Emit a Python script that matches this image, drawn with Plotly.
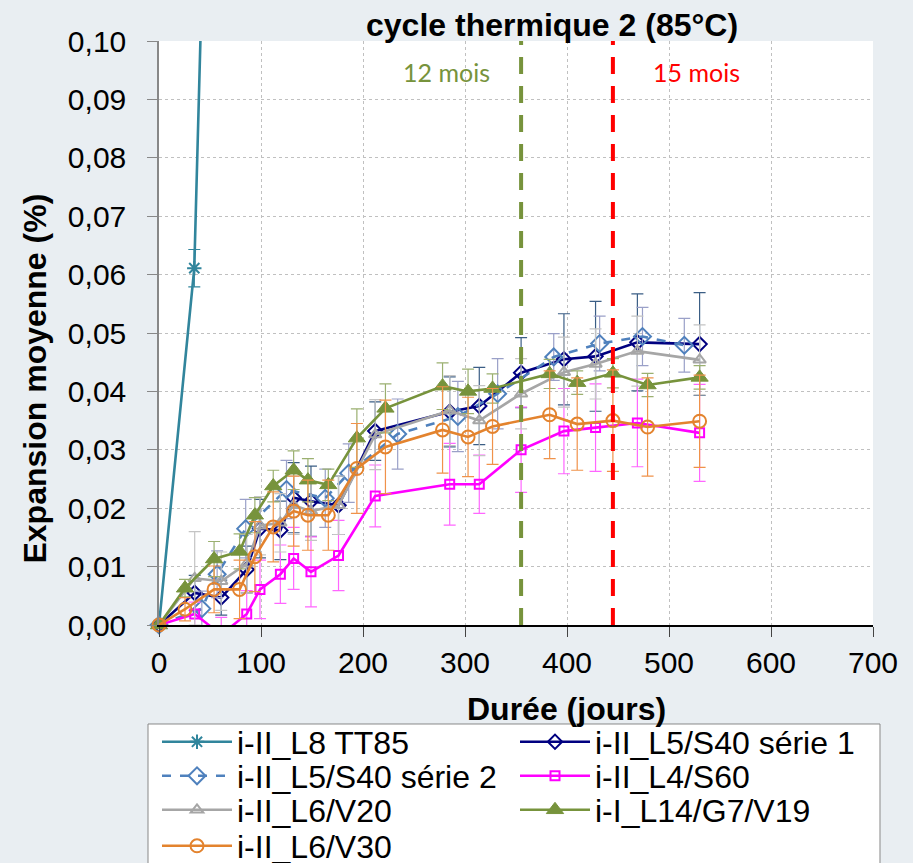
import plotly.graph_objects as go

# ---------------- data ----------------
x_tt85 = [0, 34.6, 56]
y_tt85 = [0, 0.0611, 0.20]
e_tt85 = [0, 0.0032, 0]

x_s1 = [0, 35, 61, 86, 99, 119, 132, 149, 176, 212, 285, 314, 355, 397, 428, 469, 530]
y_s1 = [0, 0.0055, 0.0047, 0.0095, 0.0165, 0.0162, 0.0218, 0.0212, 0.0205, 0.0332, 0.0365, 0.0375, 0.0432, 0.0455, 0.0460, 0.0484, 0.0481]
e_s1 = [0, 0.003, 0.003, 0.004, 0.005, 0.005, 0.006, 0.006, 0.005, 0.005, 0.006, 0.0066, 0.006, 0.0078, 0.0094, 0.0083, 0.0088]

x_s2 = [0, 42, 57, 85, 125, 163, 186, 234, 293, 332, 387, 432, 474, 515]
y_s2 = [0, 0.0028, 0.0087, 0.0165, 0.0232, 0.0217, 0.0260, 0.0327, 0.0357, 0.0396, 0.0459, 0.0482, 0.0494, 0.0479]
e_s2 = [0, 0.003, 0.004, 0.005, 0.005, 0.005, 0.005, 0.006, 0.006, 0.006, 0.004, 0.0047, 0.005, 0.0046]

x_s60 = [0, 35, 61, 86, 99, 119, 132, 149, 176, 212, 285, 314, 355, 397, 428, 469, 530]
y_s60 = [0, 0.0019, -0.0017, 0.0019, 0.0061, 0.0087, 0.0114, 0.0091, 0.0119, 0.0221, 0.0241, 0.0241, 0.0300, 0.0332, 0.0338, 0.0346, 0.0329]
e_s60 = [0, 0.002, 0.003, 0.004, 0.005, 0.005, 0.0053, 0.006, 0.006, 0.0053, 0.007, 0.005, 0.0073, 0.0073, 0.0075, 0.0075, 0.0083]

x_v20 = [0, 35, 61, 86, 99, 119, 132, 149, 176, 212, 285, 314, 355, 397, 428, 469, 530]
y_v20 = [0, 0.0080, 0.0075, 0.0105, 0.0170, 0.0175, 0.0205, 0.0195, 0.0205, 0.0326, 0.0367, 0.0350, 0.0396, 0.0433, 0.0447, 0.0469, 0.0454]
e_v20 = [0, 0.008, 0.005, 0.005, 0.005, 0.005, 0.005, 0.005, 0.005, 0.006, 0.006, 0.006, 0.006, 0.006, 0.006, 0.006, 0.006]

x_v19 = [0, 25.5, 54, 79, 94, 112, 132, 146, 166, 194, 222, 278, 303, 327, 383, 410, 445, 479, 530]
y_v19 = [0, 0.0063, 0.0113, 0.0126, 0.0188, 0.0238, 0.0265, 0.0248, 0.0240, 0.0320, 0.0371, 0.0409, 0.0400, 0.0405, 0.0430, 0.0415, 0.0431, 0.0411, 0.0424]
e_v19 = [0, 0.0015, 0.003, 0.003, 0.003, 0.0027, 0.0033, 0.0037, 0.0027, 0.005, 0.0042, 0.004, 0.0038, 0.0025, 0.0025, 0.002, 0.0025, 0.002, 0.002]

x_v30 = [0, 25.5, 54, 79, 94, 112, 132, 146, 166, 194, 222, 278, 303, 327, 383, 410, 445, 479, 530]
y_v30 = [0, 0.0027, 0.0061, 0.0061, 0.0117, 0.0168, 0.0195, 0.0188, 0.0188, 0.0268, 0.0305, 0.0334, 0.0322, 0.0340, 0.0360, 0.0344, 0.0350, 0.0339, 0.0349]
e_v30 = [0, 0.002, 0.004, 0.005, 0.006, 0.006, 0.006, 0.006, 0.006, 0.0077, 0.008, 0.0074, 0.0068, 0.0065, 0.0075, 0.0079, 0.0087, 0.0084, 0.0079]

month12_day = 355
month15_day = 445
x_ticks = [0, 100, 200, 300, 400, 500, 600, 700]
y_ticks = [0, 0.01, 0.02, 0.03, 0.04, 0.05, 0.06, 0.07, 0.08, 0.09, 0.10]

# ---------------- figure ----------------
FONT = "Liberation Sans, Arial, sans-serif"
fig = go.Figure()

def add(name, x, y, e, color, ecolor, symbol, size, legend, dash="solid", clip=False, mlw=2):
    fig.add_trace(go.Scatter(
        x=x, y=y, name=name, mode="lines+markers", legend=legend,
        line=dict(color=color, width=2.6, dash=dash),
        marker=dict(symbol=symbol, size=size, color=color,
                    line=dict(color=color, width=mlw)),
        error_y=dict(type="data", array=e, visible=True, color=ecolor,
                     thickness=1.2, width=6),
        cliponaxis=clip,
    ))

add("i-II_L8 TT85", x_tt85, y_tt85, e_tt85, "#31859C", "#31859C", "asterisk-open", 12, "legend", clip=True)
add("i-II_L5/S40 série 1", x_s1, y_s1, e_s1, "#000080", "#3B5E85", "diamond-open", 11, "legend")
add("i-II_L5/S40 série 2", x_s2, y_s2, e_s2, "#4F81BD", "#9AA0C8", "diamond-open", 13, "legend2", dash="dash")
add("i-II_L4/S60", x_s60, y_s60, e_s60, "#FF00FF", "#FF66FF", "square-open", 9, "legend2", clip=True)
add("i-II_L6/V20", x_v20, y_v20, e_v20, "#A6A6A6", "#C4C4C4", "triangle-up-open", 11, "legend3")
add("i-I_L14/G7/V19", x_v19, y_v19, e_v19, "#77933C", "#9BB070", "triangle-up", 15, "legend3", mlw=1)
add("i-II_L6/V30", x_v30, y_v30, e_v30, "#E3832E", "#F0924A", "circle-open", 13, "legend4")

fig.add_shape(type="line", x0=month12_day, x1=month12_day, y0=0, y1=0.10,
              xref="x", yref="y", line=dict(color="#77933C", width=4, dash="17px,12px"))
fig.add_shape(type="line", x0=month15_day, x1=month15_day, y0=0, y1=0.10,
              xref="x", yref="y", line=dict(color="#FF0000", width=4, dash="17px,12px"))

# legend frame
fig.add_shape(type="rect", xref="paper", yref="paper", x0=-0.0154, x1=1.0098, y0=-0.4366, y1=-0.1695,
              fillcolor="white", line=dict(color="#888888", width=1), layer="below")

fig.add_annotation(x=282, y=0.0947, xref="x", yref="y", text="12 mois", showarrow=False,
                   xanchor="center", yanchor="middle",
                   font=dict(family="Lato, Carlito, sans-serif", size=25, color="#77933C"))
fig.add_annotation(x=527, y=0.0947, xref="x", yref="y", text="15 mois", showarrow=False,
                   xanchor="center", yanchor="middle",
                   font=dict(family="Lato, Carlito, sans-serif", size=25, color="#FF0000"))

fig.add_annotation(x=0.550, y=1.0274, xref="paper", yref="paper", text="<b>cycle thermique 2 (85°C)</b>",
                   showarrow=False, xanchor="center", yanchor="middle",
                   font=dict(family=FONT, size=32, color="black"))
fig.add_annotation(x=0.571, y=-0.1438, xref="paper", yref="paper", text="<b>Durée (jours)</b>",
                   showarrow=False, xanchor="center", yanchor="middle",
                   font=dict(family=FONT, size=32, color="black"))
fig.add_annotation(x=-0.1737, y=0.422, xref="paper", yref="paper", text="<b>Expansion moyenne (%)</b>",
                   showarrow=False, textangle=-90, xanchor="center", yanchor="middle",
                   font=dict(family=FONT, size=32, color="black"))

leg_common = dict(orientation="h", xanchor="left", yanchor="middle", x=-0.0028,
                  bgcolor="rgba(0,0,0,0)", borderwidth=0,
                  font=dict(family=FONT, size=32, color="black"),
                  entrywidth=273, entrywidthmode="pixels", itemwidth=70, traceorder="normal")

fig.update_layout(
    width=913, height=863,
    margin=dict(l=159, r=40, t=41, b=238, autoexpand=False),
    paper_bgcolor="#e9eef2",
    plot_bgcolor="white",
    separators=", ",
    font=dict(family=FONT, size=30, color="black"),
    showlegend=True,
    legend=dict(y=-0.2003, **leg_common),
    legend2=dict(y=-0.2586, **leg_common),
    legend3=dict(y=-0.3168, **leg_common),
    legend4=dict(y=-0.3784, **leg_common),
    xaxis=dict(range=[0, 700], tickvals=x_ticks, showgrid=True, gridcolor="#c0c0c0",
               griddash="dot", gridwidth=1, zeroline=False, showline=True, linecolor="black",
               linewidth=1.5, ticks="outside", ticklen=10, tickcolor="#444", tickwidth=1,
               tickfont=dict(size=30), fixedrange=True, automargin=False),
    yaxis=dict(range=[0, 0.10], tickvals=y_ticks, tickformat=".2f", showgrid=True,
               gridcolor="#c0c0c0", griddash="dot", gridwidth=1, zeroline=False,
               showline=True, linecolor="#888888", linewidth=1.5, ticks="outside",
               ticklen=10, tickcolor="#888888", tickwidth=1, tickfont=dict(size=30),
               ticklabelstandoff=15, fixedrange=True, automargin=False),
)

fig.write_html("out.html", config={"displayModeBar": False},
               post_script="document.body.style.margin='0px';")
